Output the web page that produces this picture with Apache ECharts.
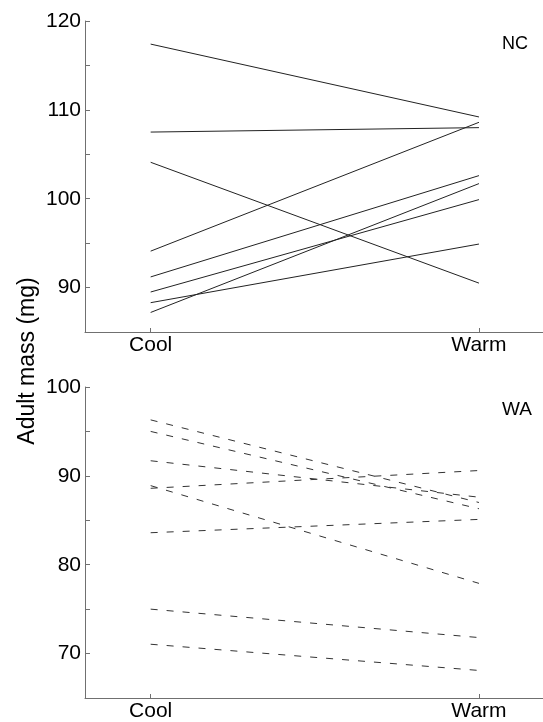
<!DOCTYPE html>
<html>
<head>
<meta charset="utf-8">
<script src="https://cdn.jsdelivr.net/npm/echarts@6/dist/echarts.min.js"></script>
<style>html,body{margin:0;padding:0;background:#fff}#c{width:543px;height:722px}</style>
</head>
<body>
<div id="c"></div>
<script>
var categories = ['Cool', 'Warm'];
var ncCool = [117.4, 107.5, 104.1, 94.1, 91.2, 89.5, 88.3, 87.2];
var ncWarm = [109.2, 108.0, 90.5, 108.6, 102.6, 99.9, 94.9, 101.7];
var waCool = [96.3, 95.0, 91.7, 88.9, 88.6, 83.6, 75.0, 71.05];
var waWarm = [87.0, 86.3, 87.6, 77.9, 90.6, 85.1, 71.8, 68.1];
var ncTicks = [85, 120];
var waTicks = [65, 100];
var panelLabels = ['NC', 'WA'];
var yTitle = 'Adult mass (mg)';

var font = 'Liberation Sans, Arial, sans-serif';
var axisColor = '#707070';

function xAxis(gi) {
  return {
    type: 'value', gridIndex: gi, min: -0.2, max: 1.195,
    axisLine: {show: true, onZero: false, lineStyle: {color: axisColor, width: 1}},
    axisTick: {show: true, inside: true, length: 4, customValues: [0, 1], lineStyle: {color: axisColor}},
    axisLabel: {show: true, customValues: [0, 1], margin: 3, color: '#000', fontSize: 21, fontFamily: font,
      formatter: function (v) { return categories[Math.round(v)]; }},
    splitLine: {show: false}
  };
}
function yAxis(gi, r) {
  return {
    type: 'value', gridIndex: gi, min: r[0], max: r[1], interval: 5,
    axisLine: {show: true, onZero: false, lineStyle: {color: axisColor, width: 1}},
    axisTick: {show: true, inside: true, length: 5, lineStyle: {color: axisColor}},
    axisLabel: {show: true, margin: 4, color: '#000', fontSize: 21, fontFamily: font,
      formatter: function (v) { return (v % 10 === 0 && v !== r[0]) ? String(v) : ''; }},
    splitLine: {show: false}
  };
}
var series = [];
for (var i = 0; i < ncCool.length; i++) {
  series.push({type: 'line', xAxisIndex: 0, yAxisIndex: 0, symbol: 'none', silent: true,
    lineStyle: {color: '#222', width: 1, type: 'solid'},
    data: [[0, ncCool[i]], [1, ncWarm[i]]]});
}
for (var j = 0; j < waCool.length; j++) {
  series.push({type: 'line', xAxisIndex: 1, yAxisIndex: 1, symbol: 'none', silent: true,
    lineStyle: {color: '#333', width: 1, type: [7, 9]},
    data: [[0, waCool[j]], [1, waWarm[j]]]});
}
var chart = echarts.init(document.getElementById('c'), null, {renderer: 'canvas'});
chart.setOption({
  animation: false,
  backgroundColor: '#fff',
  grid: [
    {left: 85, right: 0, top: 21, height: 311},
    {left: 85, right: 0, top: 387, height: 311}
  ],
  xAxis: [xAxis(0), xAxis(1)],
  yAxis: [yAxis(0, ncTicks), yAxis(1, waTicks)],
  graphic: [
    {type: 'text', x: 515, y: 44, style: {text: panelLabels[0], fontSize: 18, fontFamily: font, fill: '#000', align: 'center', verticalAlign: 'middle'}},
    {type: 'text', x: 517, y: 410, style: {text: panelLabels[1], fontSize: 19, fontFamily: font, fill: '#000', align: 'center', verticalAlign: 'middle'}},
    {type: 'text', x: 28, y: 361, rotation: Math.PI / 2, style: {text: yTitle, fontSize: 23, fontFamily: font, fill: '#000', align: 'center', verticalAlign: 'middle'}}
  ],
  series: series
});
</script>
</body>
</html>
